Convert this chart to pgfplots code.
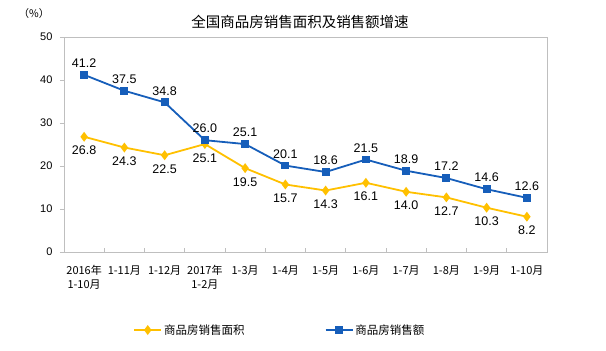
\documentclass[border=0pt]{standalone}
\usepackage{fontspec}
\setmainfont{Liberation Sans}
\newfontfamily\cjk{Noto Sans CJK SC}
\usepackage{pgfplots}
\pgfplotsset{compat=1.18}
\definecolor{cblue}{RGB}{22,94,186}
\definecolor{cyel}{RGB}{255,192,0}
\definecolor{cframe}{RGB}{191,191,191}
\begin{document}
\begin{tikzpicture}[x=1pt,y=1pt]
\useasboundingbox (0,0) rectangle (606,351);
\begin{axis}[
  at={(64pt,99pt)}, anchor=south west,
  scale only axis, width=483pt, height=215pt,
  xmin=-0.5, xmax=11.5, ymin=0, ymax=50,
  ytick={0,10,20,30,40,50},
  xtick={-0.5,0.5,1.5,2.5,3.5,4.5,5.5,6.5,7.5,8.5,9.5,10.5,11.5},
  x tick label as interval,
  xticklabels={{2016年\\1-10月},{1-11月},{1-12月},{2017年\\1-2月},{1-3月},{1-4月},{1-5月},{1-6月},{1-7月},{1-8月},{1-9月},{1-10月}},
  xticklabel style={font=\cjk\fontsize{11}{13.5}\selectfont, align=center, yshift=-10pt},
  yticklabel style={font=\fontsize{11}{13}\selectfont, xshift=-8pt},
  /pgf/number format/assume math mode=true,
  tick pos=left,
  tick align=inside,
  major tick length=4pt,
  ytick style={xshift=-4pt},
  tick style={cframe, line width=0.8pt},
  axis line style={cframe, line width=0.8pt},
  legend style={at={(0.447,-0.363)}, anchor=center, draw=none, legend columns=2,
    font=\cjk\fontsize{11.5}{13}\selectfont,
    /tikz/every even column/.append style={column sep=78pt}},
  legend image code/.code={\draw[mark repeat=2,mark phase=2] plot coordinates {(0pt,0pt) (13.5pt,0pt) (27pt,0pt)};},
]
\addplot[cyel, line width=1.8pt, mark=diamond*, mark size=3.5pt, mark options={solid, fill=cyel},
  nodes near coords={\pgfmathprintnumber[fixed,fixed zerofill,precision=1]{\pgfplotspointmeta}},
  every node near coord/.append style={text=black, font=\fontsize{12.5}{14}\selectfont, anchor=north, yshift=-5pt}]
  coordinates {(0,26.8) (1,24.3) (2,22.5) (3,25.1) (4,19.5) (5,15.7) (6,14.3) (7,16.1) (8,14.0) (9,12.7) (10,10.3) (11,8.2)};
\addlegendentry{商品房销售面积}
\addplot[cblue, line width=1.8pt, mark=square*, mark size=3pt, mark options={solid, fill=cblue},
  nodes near coords={\pgfmathprintnumber[fixed,fixed zerofill,precision=1]{\pgfplotspointmeta}},
  every node near coord/.append style={text=black, font=\fontsize{12.5}{14}\selectfont, anchor=south, yshift=3pt}]
  coordinates {(0,41.2) (1,37.5) (2,34.8) (3,26.0) (4,25.1) (5,20.1) (6,18.6) (7,21.5) (8,18.9) (9,17.2) (10,14.6) (11,12.6)};
\addlegendentry{商品房销售额}
\end{axis}
\node[font=\cjk\fontsize{14.5}{16}\selectfont] at (300,329) {全国商品房销售面积及销售额增速};
\node[font=\cjk\fontsize{10.5}{12}\selectfont] at (34,337) {（\%）};
\end{tikzpicture}
\end{document}
